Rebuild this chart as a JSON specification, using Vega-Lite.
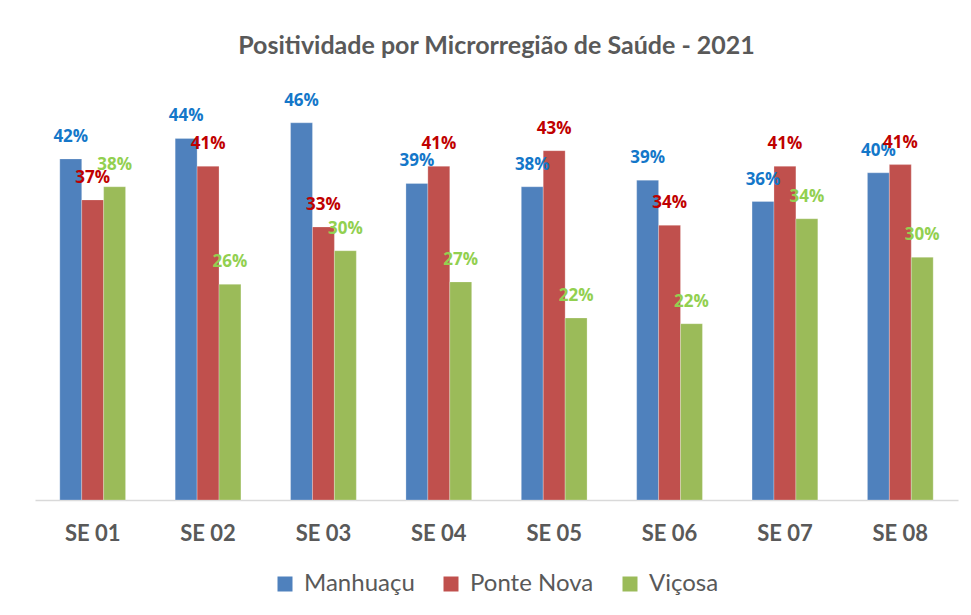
{
  "$schema": "https://vega.github.io/schema/vega-lite/v6.json",
  "width": 923,
  "height": 410,
  "autosize": {"type": "none"},
  "padding": {"left": 35, "top": 90, "right": 13, "bottom": 115},
  "background": "white",
  "config": {"view": {"stroke": null}},
  "title": {
    "text": "Positividade por Microrregião de Saúde - 2021",
    "anchor": "middle",
    "font": "Lato",
    "fontSize": 25,
    "fontWeight": "bold",
    "color": "#595959",
    "offset": 31
  },
  "data": {
    "values": [
      {"se": "SE 01", "serie": "Manhuaçu", "v": 0.416},
      {"se": "SE 01", "serie": "Ponte Nova", "v": 0.366},
      {"se": "SE 01", "serie": "Viçosa", "v": 0.382},
      {"se": "SE 02", "serie": "Manhuaçu", "v": 0.441},
      {"se": "SE 02", "serie": "Ponte Nova", "v": 0.407},
      {"se": "SE 02", "serie": "Viçosa", "v": 0.263},
      {"se": "SE 03", "serie": "Manhuaçu", "v": 0.46},
      {"se": "SE 03", "serie": "Ponte Nova", "v": 0.333},
      {"se": "SE 03", "serie": "Viçosa", "v": 0.304},
      {"se": "SE 04", "serie": "Manhuaçu", "v": 0.386},
      {"se": "SE 04", "serie": "Ponte Nova", "v": 0.407},
      {"se": "SE 04", "serie": "Viçosa", "v": 0.266},
      {"se": "SE 05", "serie": "Manhuaçu", "v": 0.382},
      {"se": "SE 05", "serie": "Ponte Nova", "v": 0.426},
      {"se": "SE 05", "serie": "Viçosa", "v": 0.222},
      {"se": "SE 06", "serie": "Manhuaçu", "v": 0.39},
      {"se": "SE 06", "serie": "Ponte Nova", "v": 0.335},
      {"se": "SE 06", "serie": "Viçosa", "v": 0.215},
      {"se": "SE 07", "serie": "Manhuaçu", "v": 0.364},
      {"se": "SE 07", "serie": "Ponte Nova", "v": 0.407},
      {"se": "SE 07", "serie": "Viçosa", "v": 0.343},
      {"se": "SE 08", "serie": "Manhuaçu", "v": 0.399},
      {"se": "SE 08", "serie": "Ponte Nova", "v": 0.409},
      {"se": "SE 08", "serie": "Viçosa", "v": 0.296}
    ]
  },
  "encoding": {
    "x": {
      "field": "se",
      "type": "nominal",
      "scale": {"paddingInner": 0.43, "paddingOuter": 0.215},
      "axis": {
        "title": null,
        "labelAngle": 0,
        "labelFont": "Lato",
        "labelFontSize": 22,
        "labelFontWeight": "bold",
        "labelColor": "#595959",
        "labelPadding": 23,
        "ticks": false,
        "domainColor": "#d9d9d9",
        "domainWidth": 1.5
      }
    },
    "xOffset": {"field": "serie", "type": "nominal", "scale": {"paddingInner": 0, "paddingOuter": 0}},
    "y": {
      "field": "v",
      "type": "quantitative",
      "scale": {"domain": [0, 0.5]},
      "axis": null
    }
  },
  "layer": [
    {
      "mark": {"type": "bar", "stroke": "white", "strokeWidth": 0.5, "strokeOpacity": 0.5},
      "encoding": {
        "color": {
          "field": "serie",
          "type": "nominal",
          "scale": {
            "domain": ["Manhuaçu", "Ponte Nova", "Viçosa"],
            "range": ["#4F81BD", "#C0504D", "#9BBB59"]
          },
          "legend": {
            "title": null,
            "orient": "none",
            "legendX": 238,
            "legendY": 482,
            "direction": "horizontal",
            "symbolType": "square",
            "symbolSize": 225,
            "symbolStrokeWidth": 0,
            "labelFont": "Lato",
            "labelFontSize": 24,
            "labelColor": "#595959",
            "columnPadding": 24,
            "labelOffset": 7
          }
        }
      }
    },
    {
      "mark": {"type": "text", "baseline": "bottom", "dy": -13, "font": "Open Sans", "fontSize": 17, "fontWeight": "bold"},
      "encoding": {
        "text": {"field": "v", "type": "quantitative", "format": ".0%"},
        "color": {
          "field": "serie",
          "type": "nominal",
          "scale": {
            "domain": ["Manhuaçu", "Ponte Nova", "Viçosa"],
            "range": ["#1477C9", "#C00000", "#92D050"]
          },
          "legend": null
        }
      }
    }
  ],
  "resolve": {"scale": {"color": "independent"}}
}
